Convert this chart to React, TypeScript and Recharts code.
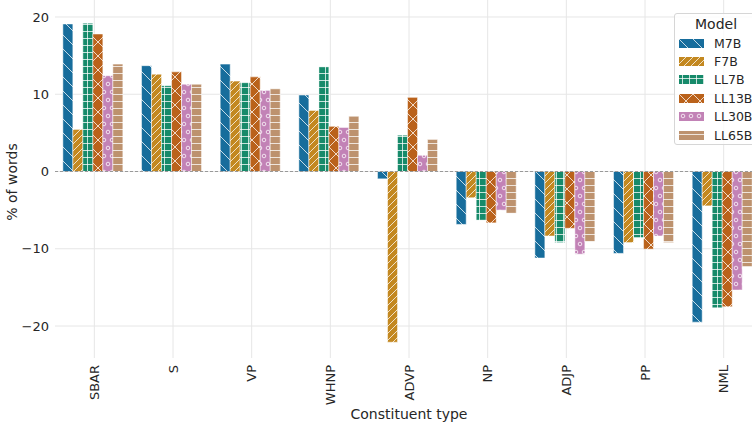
import React from "react"
import { Bar, BarChart, CartesianGrid, ReferenceLine, XAxis, YAxis } from "recharts"

const categories = ["SBAR", "S", "VP", "WHNP", "ADVP", "NP", "ADJP", "PP", "NML"]
const models = ["M7B", "F7B", "LL7B", "LL13B", "LL30B", "LL65B"]

const m7b = [19.1, 13.7, 13.9, 9.9, -0.95, -6.85, -11.2, -10.6, -19.5]
const f7b = [5.45, 12.6, 11.7, 7.9, -22.1, -3.4, -8.35, -9.2, -4.45]
const ll7b = [19.2, 11.1, 11.5, 13.55, 4.7, -6.3, -9.2, -8.55, -17.65]
const ll13b = [17.8, 12.9, 12.25, 5.85, 9.6, -6.65, -7.35, -10.05, -17.5]
const ll30b = [12.4, 11.3, 10.5, 5.7, 2.1, -5.0, -10.7, -8.35, -15.35]
const ll65b = [13.9, 11.3, 10.7, 7.15, 4.15, -5.4, -9.1, -9.2, -12.3]

const yTicks = [-20, -10, 0, 10, 20]

const colors: Record<string, string> = {
  M7B: "#176d9c",
  F7B: "#c38820",
  LL7B: "#168a6a",
  LL13B: "#ba621b",
  LL30B: "#c282b6",
  LL65B: "#bd926e",
}

const seriesByModel: Record<string, number[]> = {
  M7B: m7b,
  F7B: f7b,
  LL7B: ll7b,
  LL13B: ll13b,
  LL30B: ll30b,
  LL65B: ll65b,
}

const data = categories.map((category, i) => {
  const row: Record<string, string | number> = { category }
  models.forEach((m) => (row[m] = seriesByModel[m][i]))
  return row
})

const FONT = "DejaVu Sans"
const TEXT = "#262626"
const HATCH = "rgba(255,255,255,0.75)"

// hatch tiles, roughly like matplotlib's \ // + x o -
function HatchPattern({ model, id }: { model: string; id: string }) {
  const c = colors[model]
  const line = { stroke: HATCH, strokeWidth: 1, fill: "none" }
  if (model === "M7B") {
    return (
      <pattern id={id} width={14} height={14} patternUnits="userSpaceOnUse">
        <rect width={14} height={14} fill={c} />
        <path d="M-1,-1 L15,15 M-1,13 L1,15 M13,-1 L15,1" {...line} />
      </pattern>
    )
  }
  if (model === "F7B") {
    return (
      <pattern id={id} width={7} height={7} patternUnits="userSpaceOnUse">
        <rect width={7} height={7} fill={c} />
        <path d="M-1,8 L8,-1 M-1,1 L1,-1 M6,8 L8,6" {...line} />
      </pattern>
    )
  }
  if (model === "LL7B") {
    return (
      <pattern id={id} width={7} height={7} patternUnits="userSpaceOnUse">
        <rect width={7} height={7} fill={c} />
        <path d="M0,3.5 L7,3.5 M3.5,0 L3.5,7" {...line} />
      </pattern>
    )
  }
  if (model === "LL13B") {
    return (
      <pattern id={id} width={14} height={14} patternUnits="userSpaceOnUse">
        <rect width={14} height={14} fill={c} />
        <path d="M-1,-1 L15,15 M-1,15 L15,-1" {...line} />
      </pattern>
    )
  }
  if (model === "LL30B") {
    return (
      <pattern id={id} width={8} height={16} patternUnits="userSpaceOnUse">
        <rect width={8} height={16} fill={c} />
        <circle cx={4} cy={4} r={1.8} {...line} />
        <circle cx={0} cy={12} r={1.8} {...line} />
        <circle cx={8} cy={12} r={1.8} {...line} />
      </pattern>
    )
  }
  return (
    <pattern id={id} width={7} height={7} patternUnits="userSpaceOnUse">
      <rect width={7} height={7} fill={c} />
      <path d="M0,3.5 L7,3.5" {...line} />
    </pattern>
  )
}

function XTick({ x, y, payload }: any) {
  return (
    <text
      x={x}
      y={y}
      dy="0.35em"
      transform={`rotate(-90, ${x}, ${y})`}
      textAnchor="end"
      fill={TEXT}
      fontSize={13}
      fontFamily={FONT}
    >
      {payload.value}
    </text>
  )
}

function ModelLegend() {
  return (
    <div
      style={{
        position: "absolute",
        left: 674,
        top: 13,
        width: 90,
        height: 132,
        background: "rgba(255,255,255,0.8)",
        border: "1px solid #d6d6d6",
        borderRadius: 3,
        fontFamily: FONT,
        color: TEXT,
        boxSizing: "border-box",
      }}
    >
      <div style={{ fontSize: 14, paddingLeft: 20, paddingTop: 1, height: 19, lineHeight: "18px" }}>Model</div>
      {models.map((m) => (
        <div key={m} style={{ display: "flex", alignItems: "center", height: 18.4, fontSize: 12.5 }}>
          <svg width={25} height={9} style={{ marginLeft: 4, marginRight: 10, flex: "none" }}>
            <defs>
              <HatchPattern model={m} id={`leg-${m}`} />
            </defs>
            <rect width={25} height={9} fill={`url(#leg-${m})`} />
          </svg>
          <span>{m}</span>
        </div>
      ))}
    </div>
  )
}

export default function App() {
  return (
    <div style={{ position: "absolute", left: 0, top: 0, width: 752, height: 424, overflow: "hidden", background: "#fff" }}>
      <BarChart
        width={763}
        height={424}
        data={data}
        margin={{ top: 0, right: 0, bottom: 0, left: 0 }}
        barCategoryGap="10%"
        barGap={0}
      >
        <defs>
          {models.map((m) => (
            <HatchPattern key={m} model={m} id={`hatch-${m}`} />
          ))}
        </defs>
        <CartesianGrid stroke="#e6e6e6" strokeWidth={1} syncWithTicks />
        <XAxis
          dataKey="category"
          height={66}
          axisLine={false}
          tickLine={false}
          tick={<XTick />}
          tickSize={0}
          tickMargin={7}
          interval={0}
          label={{
            value: "Constituent type",
            position: "insideBottom",
            offset: 5,
            fill: TEXT,
            fontSize: 14,
            fontFamily: FONT,
          }}
        />
        <YAxis
          width={55}
          domain={[-24.14, 22.2]}
          ticks={yTicks}
          axisLine={false}
          tickLine={false}
          tickSize={6}
          tickMargin={0}
          allowDataOverflow
          tick={{ fill: TEXT, fontSize: 13, fontFamily: FONT }}
          tickFormatter={(v: number) => String(v).replace("-", "\u2212")}
          label={{
            content: () => (
              <text
                x={17}
                y={182}
                transform="rotate(-90, 17, 182)"
                textAnchor="middle"
                fill={TEXT}
                fontSize={14}
                fontFamily={FONT}
              >
                % of words
              </text>
            ),
          }}
        />
        <ReferenceLine y={0} stroke="#999999" strokeDasharray="3 2" strokeWidth={1} />
        {models.map((m) => (
          <Bar
            key={m}
            dataKey={m}
            fill={`url(#hatch-${m})`}
            stroke="#ffffff"
            strokeOpacity={0.5}
            strokeWidth={1}
            isAnimationActive={false}
          />
        ))}
      </BarChart>
      <ModelLegend />
    </div>
  )
}
